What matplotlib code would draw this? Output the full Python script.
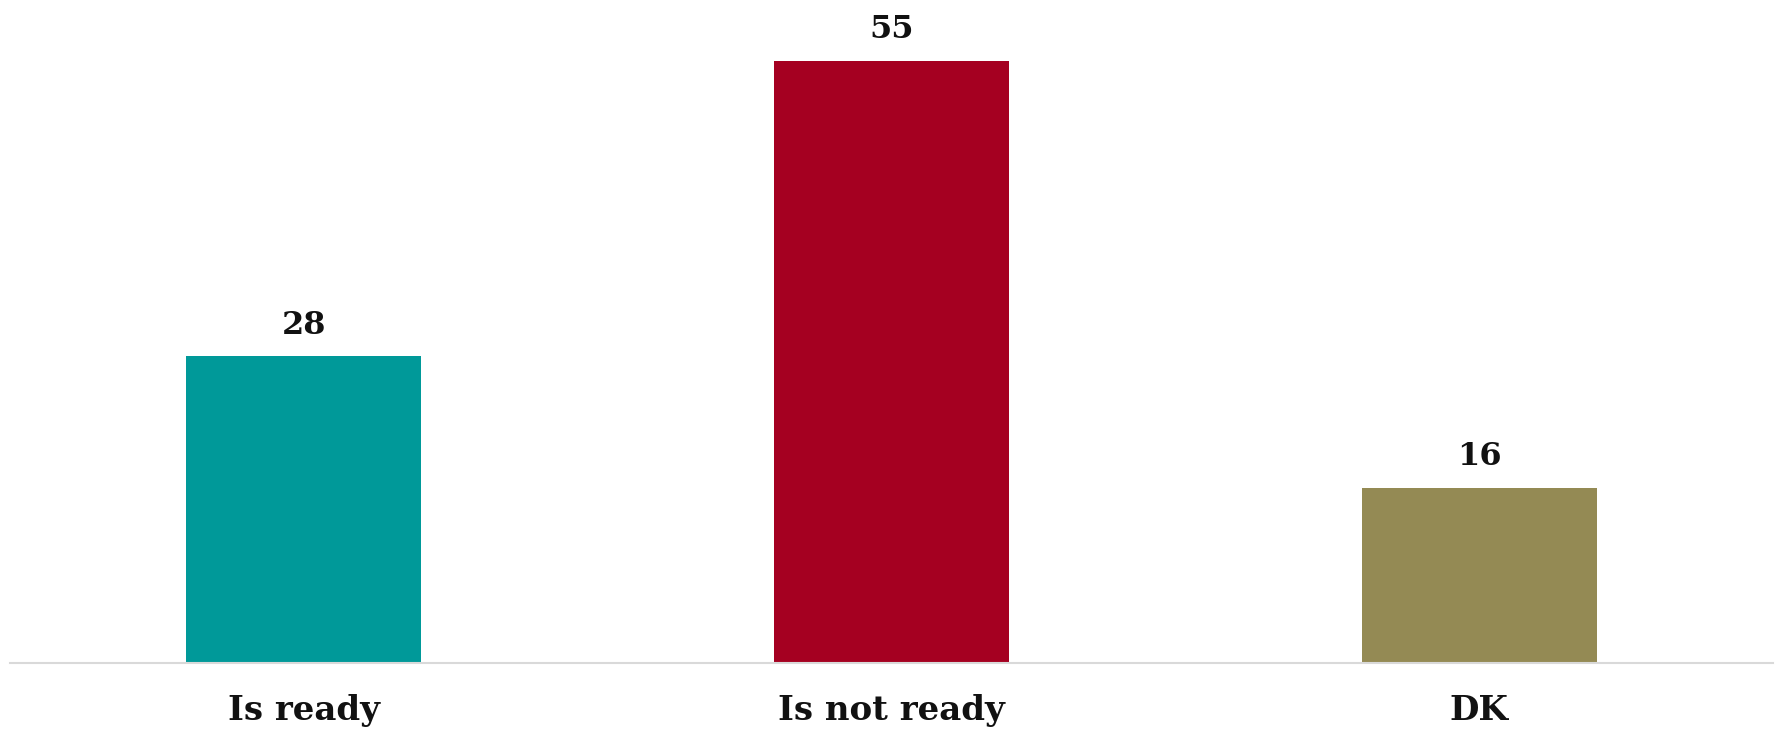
import matplotlib
matplotlib.use("Agg")
import matplotlib.pyplot as plt

categories = ["Is ready", "Is not ready", "DK"]
values = [28, 55, 16]
colors = ["#009999", "#A50021", "#948A54"]

plt.rcParams['font.family'] = ['DejaVu Serif']

fig = plt.figure(figsize=(17.79, 7.30), dpi=100)
ax = fig.add_axes([10/1779, 67/730, 1763/1779, 657/730])
x = list(range(len(categories)))
bars = ax.bar(x, values, width=0.40, color=colors)
ax.set_xlim(-0.5, 2.5)
ax.set_ylim(0, 60)
for xi, v in zip(x, values):
    ax.text(xi, v + 1.4, str(v), ha='center', va='bottom', fontsize=23, fontweight='bold', color='#111111')
ax.set_xticks(x)
ax.set_xticklabels(categories, fontsize=24.5, fontweight='bold', color='#111111')
ax.tick_params(axis='x', length=0, pad=22)
ax.set_yticks([])
for s in ['top', 'right', 'left']:
    ax.spines[s].set_visible(False)
ax.spines['bottom'].set_color('#d9d9d9')
ax.spines['bottom'].set_linewidth(1.5)
fig.savefig("out.png", dpi=100)
